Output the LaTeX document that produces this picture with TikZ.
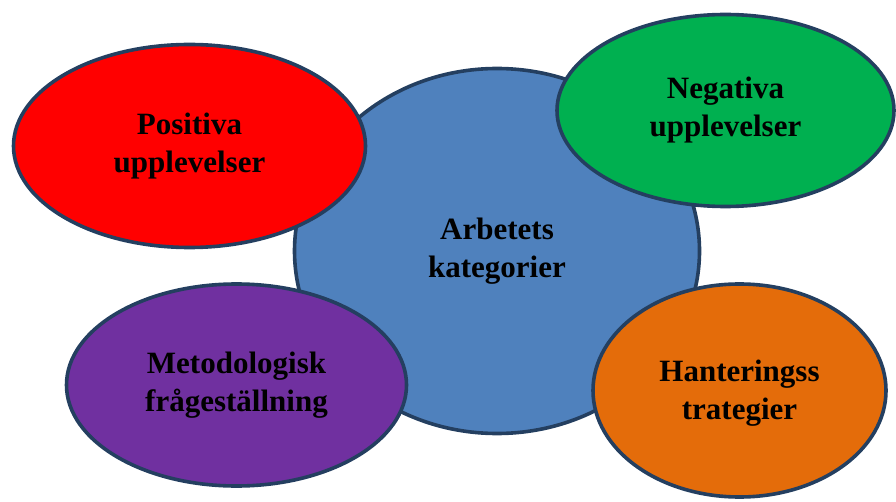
\documentclass[tikz,border=0pt]{standalone}
\usepackage{fontspec}
\setmainfont{Liberation Serif}
\usetikzlibrary{shapes.geometric}
\usetikzlibrary{positioning}
\definecolor{rim}{HTML}{243F60}
\definecolor{kblue}{HTML}{4F81BD}
\definecolor{kred}{HTML}{FF0000}
\definecolor{kgreen}{HTML}{00B050}
\definecolor{kpurple}{HTML}{7030A0}
\definecolor{korange}{HTML}{E46C0A}
\begin{document}
\begin{tikzpicture}[x=1pt,y=-1pt,
			bubble/.style={ellipse, draw=rim, line width=3.6pt, inner sep=0pt,
				align=center, font=\bfseries\fontsize{31}{38}\selectfont}]
			\useasboundingbox (0,0) rectangle (896,502);
			
			\node[bubble, fill=kblue, minimum width=405pt, minimum height=365pt] (kat) at (497,251) {Arbetets\\kategorier};
			\node[bubble, fill=kred, minimum width=352pt, minimum height=203pt] (pos) at (189.5,146) {Positiva\\upplevelser};
			\node[bubble, fill=kgreen, minimum width=337pt, minimum height=192pt] (neg) at (725.5,110.5) {Negativa\\upplevelser};
			\node[bubble, fill=kpurple, minimum width=340pt, minimum height=202pt] (met) at (236.5,385) {Metodologisk\\frågeställning};
			\node[bubble, fill=korange, minimum width=293pt, minimum height=213pt] (han) at (739.5,390.5) {\\[-12pt]Hanteringss\\trategier};
			\end{tikzpicture}
\end{document}
